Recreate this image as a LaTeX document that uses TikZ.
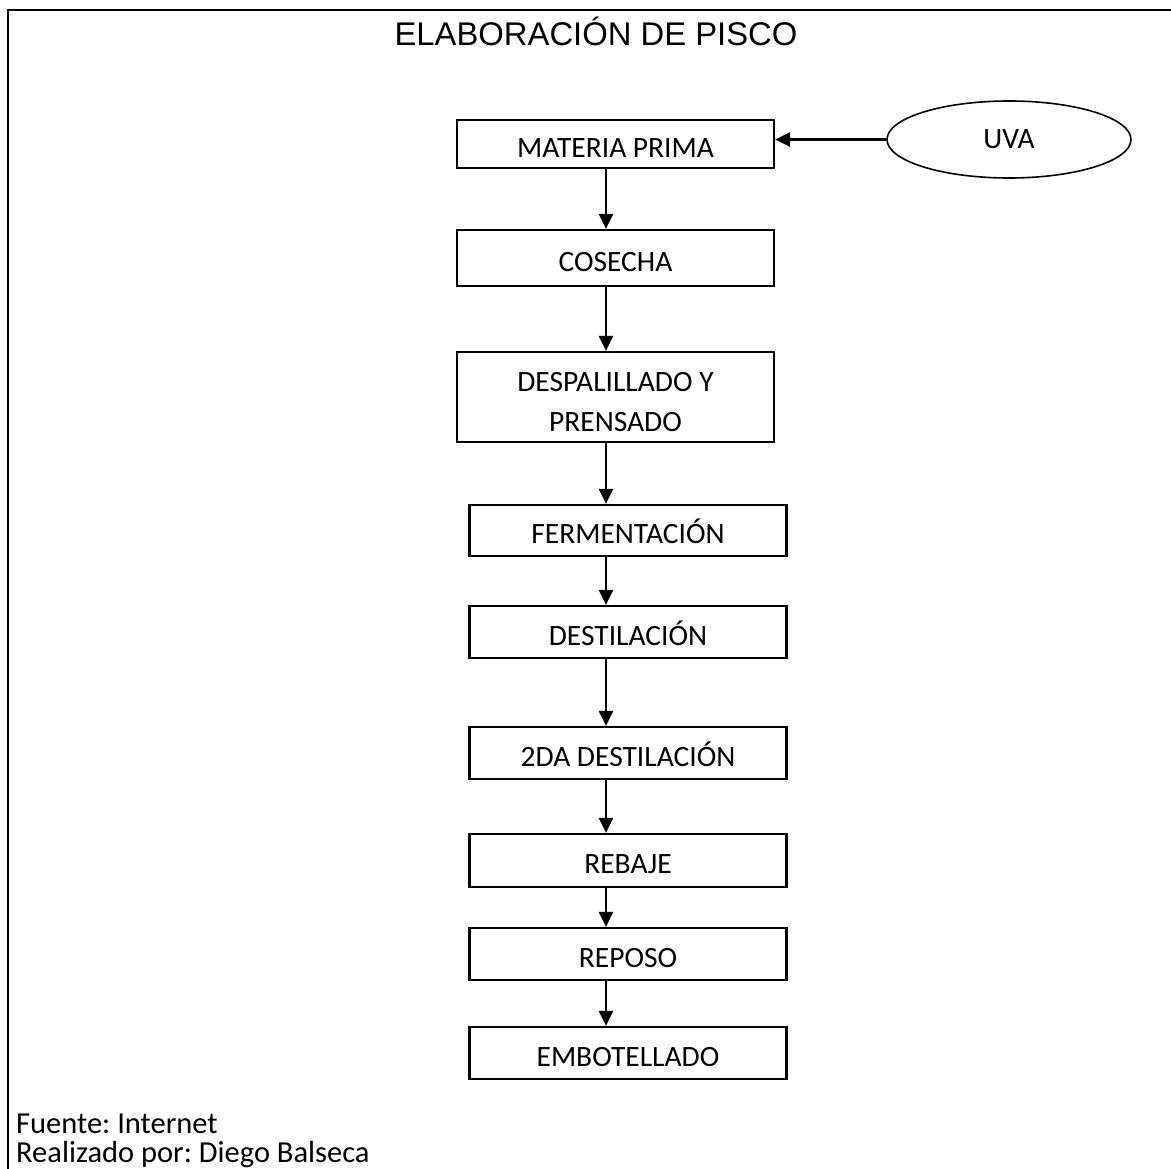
\documentclass[tikz,border=0pt]{standalone}
\usepackage{fontspec}
\setmainfont{Carlito}
\newfontfamily\titlefont{Liberation Sans}
\usetikzlibrary{arrows.meta,shapes.geometric}
\frenchspacing

\begin{document}
\begin{tikzpicture}[x=1pt,y=-1pt,
  stage/.style={draw, line width=2.2pt, inner sep=0pt, minimum width=317pt, align=center,
    text height=27pt, text depth=0.4pt, font=\fontsize{29.5}{40}\selectfont},
  flow/.style={line width=2.5pt, -{Triangle[length=15pt,width=14pt]}}]
\useasboundingbox (0,0) rectangle (1171,1169);
% frame
\draw[line width=2.2pt] (8,1169) -- (8,10) -- (1171,10);
% title
\node[anchor=base, font=\titlefont\fontsize{32.8}{38}\selectfont] (title) at (596,46) {ELABORACIÓN DE PISCO};
% process steps
\node[stage, minimum height=48pt] (mp) at (615.5,144) {MATERIA PRIMA};
\node[stage, minimum height=56pt] (cos) at (615.5,258) {COSECHA};
\node[stage, minimum height=90pt, text height=70pt] (desp) at (615.5,397) {DESPALILLADO Y\\PRENSADO};
\node[stage, minimum height=51pt] (ferm) at (628,530.5) {FERMENTACIÓN};
\node[stage, minimum height=52pt] (dest) at (628,632) {DESTILACIÓN};
\node[stage, minimum height=52pt] (dest2) at (628,753) {2DA DESTILACIÓN};
\node[stage, minimum height=53pt] (reb) at (628,860.5) {REBAJE};
\node[stage, minimum height=52pt] (rep) at (628,954) {REPOSO};
\node[stage, minimum height=52pt] (emb) at (628,1053) {EMBOTELLADO};
% input
\node[draw, ellipse, line width=1.6pt, inner sep=0pt, minimum width=244pt, minimum height=77pt,
  font=\fontsize{29.5}{34}\selectfont] (uva) at (1009,139.5) {UVA};
\draw[flow] (uva.west) -- (mp.east |- uva.west);
% flow arrows
\coordinate (spine) at (606,0);
\draw[flow] (mp.south -| spine) -- (cos.north -| spine);
\draw[flow] (cos.south -| spine) -- (desp.north -| spine);
\draw[flow] (desp.south -| spine) -- (ferm.north -| spine);
\draw[flow] (ferm.south -| spine) -- (dest.north -| spine);
\draw[flow] (dest.south -| spine) -- (dest2.north -| spine);
\draw[flow] (dest2.south -| spine) -- (reb.north -| spine);
\draw[flow] (reb.south -| spine) -- (rep.north -| spine);
\draw[flow] (rep.south -| spine) -- (emb.north -| spine);
% footer
\node[anchor=base west, font=\fontsize{30.5}{34}\selectfont, inner sep=0pt] (src) at (16,1133) {Fuente: Internet};
\node[anchor=base west, font=\fontsize{30.5}{34}\selectfont, inner sep=0pt] (auth) at (16,1162) {Realizado por: Diego Balseca};
\end{tikzpicture}
\end{document}
